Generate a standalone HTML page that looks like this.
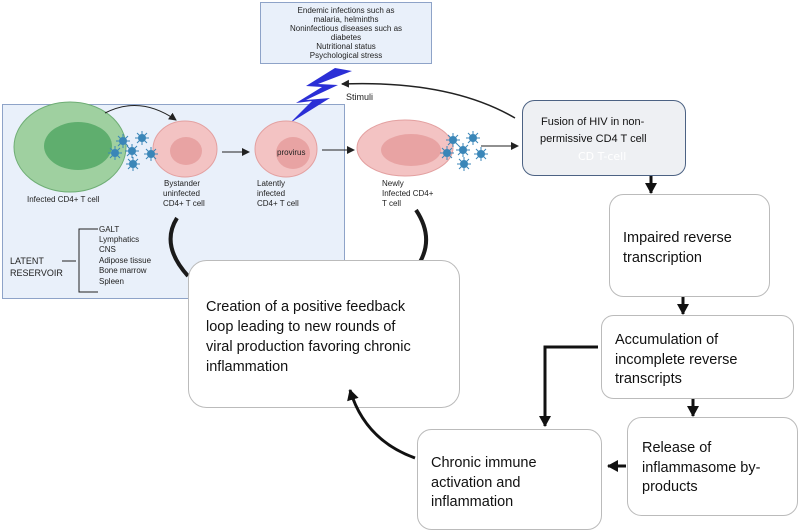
<!DOCTYPE html>
<html><head><style>
body{margin:0;width:800px;height:532px;background:#fff;overflow:hidden}
svg{display:block}
text{font-family:"Liberation Sans",sans-serif}
.b{font-family:"DejaVu Sans","Liberation Sans",sans-serif}
</style></head><body>
<svg width="800" height="532" viewBox="0 0 800 532">
<defs>
<marker id="a" markerWidth="8" markerHeight="8" refX="7" refY="4" orient="auto" markerUnits="userSpaceOnUse"><path d="M0,0 L8,4 L0,8z" fill="#222"/></marker>
<marker id="b" markerWidth="12" markerHeight="12" refX="10" refY="6" orient="auto" markerUnits="userSpaceOnUse"><path d="M0,0 L11,6 L0,12z" fill="#111"/></marker>
<g id="v"><circle r="4" fill="#3a86b8"/><g stroke="#3a86b8" stroke-width="1"><path d="M-7,0H7M0,-7V7M-5,-5L5,5M-5,5L5,-5"/></g></g>
</defs>
<!-- top box -->
<rect x="260.5" y="2.5" width="171" height="61" fill="#e9f0fa" stroke="#8ea3c8"/>
<g font-size="8" fill="#222" text-anchor="middle">
<text x="346" y="13">Endemic infections such as</text>
<text x="346" y="22">malaria, helminths</text>
<text x="346" y="31">Noninfectious diseases such as</text>
<text x="346" y="40">diabetes</text>
<text x="346" y="49">Nutritional status</text>
<text x="346" y="58">Psychological stress</text>
</g>
<!-- panel -->
<rect x="2.5" y="104.5" width="342" height="194" fill="#e9f0fa" stroke="#8ea3c8"/>
<!-- lightning -->
<path d="M335,68 L352,71 L318,84 L338,85 L306,100 L330,98 L290,123 L312,101 L296,103 L322,87 L306,86 Z" fill="#2b2fd6"/>
<path d="M515,118 Q450,80 342,84" fill="none" stroke="#222" stroke-width="1.5" marker-end="url(#a)"/>
<text x="346" y="100" font-size="9" fill="#222">Stimuli</text>
<!-- cells -->
<ellipse cx="70" cy="147" rx="56" ry="45" fill="#9fd0a0" stroke="#6fae75"/>
<ellipse cx="78" cy="146" rx="34" ry="24" fill="#5fae6e"/>
<path d="M105,113 Q140,95 176,120" fill="none" stroke="#222" marker-end="url(#a)"/>
<ellipse cx="185" cy="149" rx="32" ry="28" fill="#f3c3c3" stroke="#e3a0a0"/>
<ellipse cx="186" cy="151" rx="16" ry="14" fill="#e8a3a3"/>
<ellipse cx="286" cy="149" rx="31" ry="28" fill="#f3c3c3" stroke="#e3a0a0"/>
<ellipse cx="293" cy="153" rx="17" ry="16" fill="#e8a3a3"/>
<text x="277" y="155" font-size="8" fill="#222">provirus</text>
<ellipse cx="405" cy="148" rx="48" ry="28" fill="#f3c3c3" stroke="#e3a0a0"/>
<ellipse cx="411" cy="150" rx="30" ry="16" fill="#e8a3a3"/>
<use href="#v" x="123" y="141" transform=""/><use href="#v" x="115" y="153"/><use href="#v" x="132" y="151"/><use href="#v" x="142" y="138"/><use href="#v" x="133" y="164"/><use href="#v" x="151" y="154"/>
<use href="#v" x="453" y="140"/><use href="#v" x="447" y="153"/><use href="#v" x="463" y="150"/><use href="#v" x="473" y="138"/><use href="#v" x="464" y="164"/><use href="#v" x="481" y="154"/>
<g stroke="#222" fill="none"><path d="M222,152H249" marker-end="url(#a)"/><path d="M322,150H354" marker-end="url(#a)"/><path d="M481,146H518" marker-end="url(#a)"/></g>
<g font-size="8" fill="#222">
<text x="27" y="202">Infected CD4+ T cell</text>
<text x="164" y="186">Bystander</text><text x="163" y="196">uninfected</text><text x="163" y="206">CD4+ T cell</text>
<text x="257" y="186">Latently</text><text x="257" y="196">infected</text><text x="257" y="206">CD4+ T cell</text>
<text x="382" y="186">Newly</text><text x="382" y="196">Infected CD4+</text><text x="382" y="206">T cell</text>
<text x="99" y="232">GALT</text><text x="99" y="242">Lymphatics</text><text x="99" y="252">CNS</text><text x="99" y="263">Adipose tissue</text><text x="99" y="273">Bone marrow</text><text x="99" y="284">Spleen</text>
</g>
<text x="10" y="264" font-size="9" fill="#222">LATENT</text>
<text x="10" y="276" font-size="9" fill="#222">RESERVOIR</text>
<path d="M62,261H76M98,229H79V292H98" fill="none" stroke="#222"/>
<!-- curved thick lines -->
<path d="M177,218 Q160,245 188,276" fill="none" stroke="#1a1a1a" stroke-width="4"/>
<path d="M416,210 Q434,237 420,262" fill="none" stroke="#1a1a1a" stroke-width="4"/>
<!-- boxes -->
<g fill="#fff" stroke="#bbb" stroke-width="1">
<rect x="188.5" y="260.5" width="271" height="147" rx="18"/>
<rect x="609.5" y="194.5" width="160" height="102" rx="14"/>
<rect x="601.5" y="315.5" width="192" height="83" rx="12"/>
<rect x="627.5" y="417.5" width="170" height="98" rx="14"/>
<rect x="417.5" y="429.5" width="184" height="100" rx="14"/>
</g>
<rect x="522.5" y="100.5" width="163" height="75" rx="12" fill="#eef0f3" stroke="#4c6283"/>
<g font-size="11" fill="#111" class="b">
<text x="541" y="125">Fusion of HIV in non-</text>
<text x="540" y="142">permissive CD4 T cell</text>
</g>
<text x="578" y="160" font-size="11" fill="#fff" class="b">CD T-cell</text>
<g font-size="14.5" fill="#111" class="b">
<text x="206" y="311">Creation of a positive feedback</text>
<text x="206" y="331">loop leading to new rounds of</text>
<text x="206" y="351">viral production favoring chronic</text>
<text x="206" y="371">inflammation</text>
<text x="623" y="242">Impaired reverse</text>
<text x="623" y="262">transcription</text>
<text x="615" y="344">Accumulation of</text>
<text x="615" y="364">incomplete reverse</text>
<text x="615" y="383">transcripts</text>
<text x="642" y="452">Release of</text>
<text x="642" y="472">inflammasome by-</text>
<text x="642" y="491">products</text>
<text x="431" y="467">Chronic immune</text>
<text x="431" y="487">activation and</text>
<text x="431" y="506">inflammation</text>
</g>
<!-- thick arrows -->
<g stroke="#111" stroke-width="3" fill="none">
<path d="M651,176V193" marker-end="url(#b)"/>
<path d="M683,297V314" marker-end="url(#b)"/>
<path d="M693,399V416" marker-end="url(#b)"/>
<path d="M598,347H545V426" marker-end="url(#b)"/>
<path d="M626,466H608" marker-end="url(#b)"/>
<path d="M415,458 Q365,440 350,390" marker-end="url(#b)"/>
</g>
</svg>
</body></html>
